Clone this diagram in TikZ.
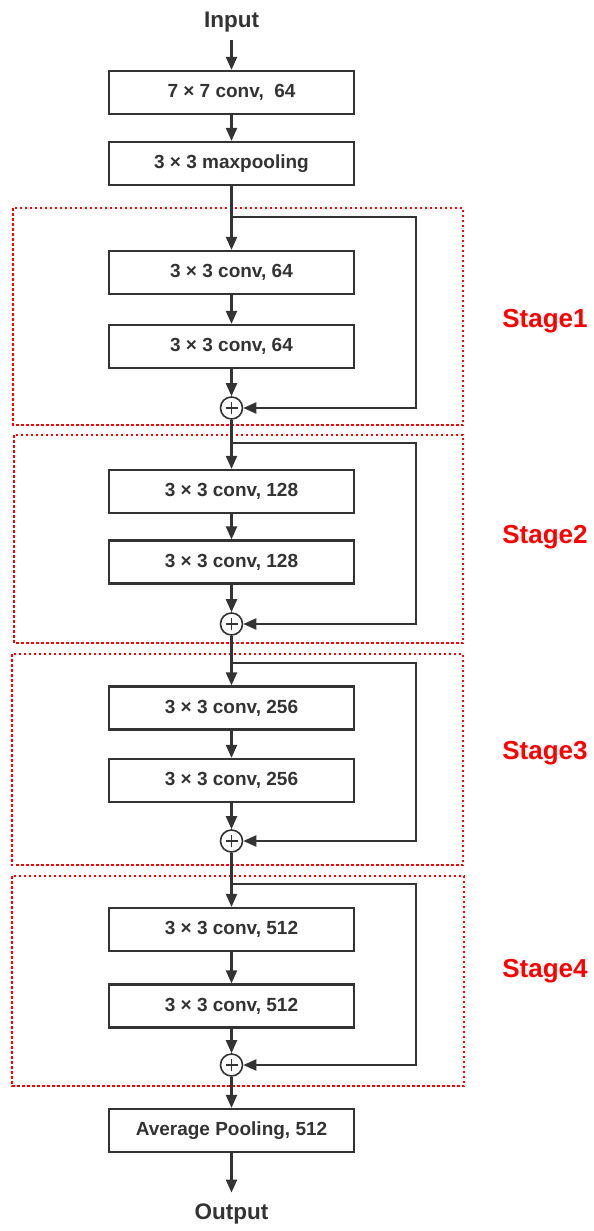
\documentclass[tikz,border=0pt]{standalone}
\usepackage{fontspec}
\setmainfont{Liberation Sans}
\usetikzlibrary{arrows.meta}
\definecolor{ln}{HTML}{333333}
\definecolor{stg}{HTML}{FF0000}
\begin{document}
\begin{tikzpicture}[x=1pt,y=-1pt,
  blk/.style={draw=ln, line width=2.2pt, fill=white, minimum width=245pt, minimum height=43pt,
    inner sep=0pt, text=ln, font=\fontsize{19}{21}\selectfont\bfseries},
  io/.style={text=ln, inner sep=2pt, font=\fontsize{22.5}{24}\selectfont\bfseries},
  sumnode/.style={circle, draw=ln, line width=1.6pt, fill=white, minimum size=22pt, inner sep=0pt,
    path picture={\draw[ln, line width=1.3pt] (path picture bounding box.center) +(-6pt,0pt) -- +(6pt,0pt)
      (path picture bounding box.center) +(0pt,-6pt) -- +(0pt,6pt);}},
  arr/.style={draw=ln, line width=2.2pt, -{Triangle[length=13pt,width=11pt]}},
  stagebox/.style={draw=stg, line width=1.8pt, dash pattern=on 2.5pt off 2.5pt},
  stagelab/.style={text=stg, font=\fontsize{26}{28}\selectfont\bfseries}
]
\useasboundingbox (0,0) rectangle (594,1231);
\fill[white] (0,0) rectangle (594,1231);

% stage frames
\draw[stagebox] (13,208) rectangle (463,425);
\draw[stagebox] (14,435) rectangle (463,643);
\draw[stagebox] (12,654) rectangle (463,865);
\draw[stagebox] (12,876) rectangle (464,1086);

\node[stagelab] (l1) at (545,321) {Stage1};
\node[stagelab] (l2) at (545,537) {Stage2};
\node[stagelab] (l3) at (545,753) {Stage3};
\node[stagelab] (l4) at (545,971) {Stage4};

% nodes
\node[io] (in) at (231.5,22) {Input};
\node[blk] (c1) at (231.5,92.5) {7 × 7 conv,\ \ 64};
\node[blk] (mp) at (231.5,163.5) {3 × 3 maxpooling};

\node[blk] (s1a) at (231.5,272.5) {3 × 3 conv, 64};
\node[blk] (s1b) at (231.5,346.5) {3 × 3 conv, 64};
\node[sumnode] (p1) at (231.5,408) {};

\node[blk] (s2a) at (231.5,491.5) {3 × 3 conv, 128};
\node[blk] (s2b) at (231.5,562) {3 × 3 conv, 128};
\node[sumnode] (p2) at (231.5,624) {};

\node[blk] (s3a) at (231.5,708) {3 × 3 conv, 256};
\node[blk] (s3b) at (231.5,780.5) {3 × 3 conv, 256};
\node[sumnode] (p3) at (231.5,841) {};

\node[blk] (s4a) at (231.5,929.5) {3 × 3 conv, 512};
\node[blk] (s4b) at (231.5,1006) {3 × 3 conv, 512};
\node[sumnode] (p4) at (231.5,1065) {};

\node[blk] (avg) at (231.5,1130.5) {Average Pooling, 512};
\node[io] (out) at (231.5,1214) {Output};

% skip branch points
\coordinate (k1) at (231.5,217);
\coordinate (k2) at (231.5,443);
\coordinate (k3) at (231.5,663);
\coordinate (k4) at (231.5,884);

% main flow
\draw[arr, shorten <=6pt] (in) -- (c1);
\draw[arr] (c1) -- (mp);
\draw[arr] (mp) -- (s1a);
\draw[arr] (s1a) -- (s1b);
\draw[arr] (s1b) -- (p1);
\draw[arr] (p1) -- (s2a);
\draw[arr] (s2a) -- (s2b);
\draw[arr] (s2b) -- (p2);
\draw[arr] (p2) -- (s3a);
\draw[arr] (s3a) -- (s3b);
\draw[arr] (s3b) -- (p3);
\draw[arr] (p3) -- (s4a);
\draw[arr] (s4a) -- (s4b);
\draw[arr] (s4b) -- (p4);
\draw[arr] (p4) -- (avg);
\draw[arr, shorten >=9pt] (avg) -- (out);

% shortcuts
\draw[arr] (k1) -- ++(184.5,0) |- (p1);
\draw[arr] (k2) -- ++(184.5,0) |- (p2);
\draw[arr] (k3) -- ++(184.5,0) |- (p3);
\draw[arr] (k4) -- ++(184.5,0) |- (p4);
\end{tikzpicture}
\end{document}
